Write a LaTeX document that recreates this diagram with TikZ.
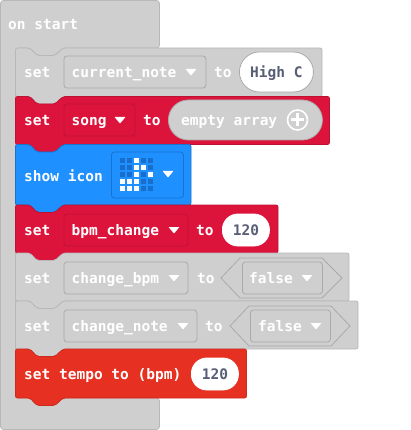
\documentclass[tikz,border=0pt]{standalone}
\usepackage{fontspec}
\setmonofont{DejaVu Sans Mono}
\usetikzlibrary{positioning}
\definecolor{offFill}{RGB}{207,207,207}
\definecolor{offBrd}{RGB}{184,184,184}
\definecolor{offFld}{RGB}{170,170,170}
\definecolor{varFill}{RGB}{220,20,60}
\definecolor{varBrd}{RGB}{190,18,52}
\definecolor{iconFill}{RGB}{30,144,255}
\definecolor{iconBrd}{RGB}{24,115,204}
\definecolor{ledOff}{RGB}{24,110,205}
\definecolor{tempoFill}{RGB}{230,48,34}
\definecolor{tempoBrd}{RGB}{205,42,30}
\definecolor{numTxt}{RGB}{87,94,117}
\tikzset{
  every node/.style={font=\ttfamily\bfseries\fontsize{14.5}{16}\selectfont},
  TXT/.style={text=white, inner sep=0pt, anchor=west, text height=11.5pt, text depth=0.5pt},
  FLD/.style={draw, rounded corners=3pt, line width=0.8pt, minimum height=32pt, inner sep=0pt, anchor=west},
  PILL/.style={draw, rounded corners=15.5pt, line width=0.8pt, inner sep=0pt, anchor=west, text height=11.5pt, text depth=0.5pt},
  NUM/.style={PILL, fill=white, draw=offFld, text=numTxt, minimum height=32pt},
  OFF/.style={fill=offFill, draw=offBrd, line width=0.8pt},
  VAR/.style={fill=varFill, draw=varBrd, line width=0.8pt},
  ICN/.style={fill=iconFill, draw=iconBrd, line width=0.8pt},
  TMP/.style={fill=tempoFill, draw=tempoBrd, line width=0.8pt},
}
\newcommand{\stackblock}[4]{\draw[#4, rounded corners=2pt] (15.5,#1) -- (30,#1) -- (37,#1+7.5) -- (55,#1+7.5) -- (63,#1) -- (#3,#1) -- (#3,#2) -- (63,#2) -- (55,#2+7.5) -- (37,#2+7.5) -- (30,#2) -- (15.5,#2) -- cycle;}
\newcommand{\dropmark}[2]{\fill[white, rounded corners=0.6pt] (#1-5.5,#2-3) -- (#1+5.5,#2-3) -- (#1,#2+3.5) -- cycle;}

\begin{document}
\begin{tikzpicture}[x=1pt, y=1pt, yscale=-1]

\useasboundingbox (0,0) rectangle (410,430);

%% Hat
\draw[OFF, rounded corners=3pt] (0.5,0.5) -- (0.5,429.5) -- (159.5,429.5) -- (159.5,398) -- (15.5,398) -- (15.5,48) -- (30,48) -- (37,55.5) -- (55,55.5) -- (63,48) -- (159.5,48) -- (159.5,0.5) -- cycle;
\node[TXT] (startTxt) at (8,24) {on start};

%% current_note
\stackblock{48}{96.5}{322}{OFF}
\node[TXT] (setNote) at (24,72) {set};
\node[FLD, draw=offFld, fill=offFill, minimum width=142pt] (noteFld) at (63.5,72) {};
\node[TXT, right=8pt of noteFld.west] (noteTxt) {current\_note};
\dropmark{191}{72}
\node[TXT] (toNote) at (214,72) {to};
\node[NUM, minimum width=74pt, minimum height=40pt, rounded corners=20pt] (noteVal) at (239,72) {High C};

%% song
\stackblock{96.5}{144.5}{329.5}{VAR}
\node[TXT] (setSong) at (24,120) {set};
\node[FLD, draw=varBrd, fill=varFill, minimum width=71pt] (songFld) at (63.5,120) {};
\node[TXT, right=8pt of songFld.west] (songTxt) {song};
\dropmark{120}{120}
\node[TXT] (toSong) at (143,120) {to};
\node[PILL, fill=offFill, draw=offFld, text=white, minimum width=154pt, minimum height=40pt, rounded corners=20pt] (songVal) at (168,120) {};
\node[TXT, right=13pt of songVal.west] (songArr) {empty array};
\draw[white, line width=1.6pt] (297.5,120) circle (10);
\draw[white, line width=3pt] (291,120) -- (304,120);
\draw[white, line width=3pt] (297.5,113.5) -- (297.5,126.5);

%% show icon
\stackblock{144.5}{205}{191}{ICN}
\node[TXT] (iconTxt) at (24,176) {show icon};
\node[FLD, draw=iconBrd, fill=iconFill, minimum width=72pt, minimum height=46pt] (iconFld) at (111,175) {};
\foreach \r in {0,...,4} {
  \foreach \c in {0,...,4} {
    \fill[ledOff] (120+7*\c,158+7*\r) rectangle +(5.4,5.4);
  }
}
\foreach \c/\r in {2/0, 2/1, 3/1, 2/2, 4/2, 0/3, 1/3, 2/3, 0/4, 1/4, 2/4} {
  \fill[white] (120+7*\c,158+7*\r) rectangle +(5.4,5.4);
}
\dropmark{168}{174}

%% bpm_change
\stackblock{205}{253}{278}{VAR}
\node[TXT] (setBpm) at (24,230) {set};
\node[FLD, draw=varBrd, fill=varFill, minimum width=124pt] (bpmFld) at (63.5,230) {};
\node[TXT, right=8pt of bpmFld.west] (bpmTxt) {bpm\_change};
\dropmark{174}{230}
\node[TXT] (toBpm) at (196,230) {to};
\node[NUM, minimum width=47pt, draw=white] (bpmVal) at (222,230) {120};

%% change_bpm
\stackblock{253}{301}{349}{OFF}
\node[TXT] (setChg) at (24,278) {set};
\node[FLD, draw=offFld, fill=offFill, minimum width=124pt] (chgFld) at (63.5,278) {};
\node[TXT, right=8pt of chgFld.west] (chgTxt) {change\_bpm};
\dropmark{174}{278}
\node[TXT] (toChg) at (197,278) {to};
\draw[fill=offFill, draw=offFld, line width=0.8pt] (221,278) -- (240,258) -- (322,258) -- (342,278) -- (322,298) -- (240,298) -- cycle;
\node[FLD, draw=offFld, fill=offFill, minimum width=80pt] (chgVal) at (242,278) {};
\node[TXT, right=7pt of chgVal.west] (chgBool) {false};
\dropmark{307}{278}

%% change_note
\stackblock{301}{349}{358}{OFF}
\node[TXT] (setCn) at (24,326) {set};
\node[FLD, draw=offFld, fill=offFill, minimum width=133pt] (cnFld) at (63.5,326) {};
\node[TXT, right=8pt of cnFld.west] (cnTxt) {change\_note};
\dropmark{183}{326}
\node[TXT] (toCn) at (205,326) {to};
\draw[fill=offFill, draw=offFld, line width=0.8pt] (230,326) -- (249,306) -- (331,306) -- (350,326) -- (331,346) -- (249,346) -- cycle;
\node[FLD, draw=offFld, fill=offFill, minimum width=80pt] (cnVal) at (250,326) {};
\node[TXT, right=8pt of cnVal.west] (cnBool) {false};
\dropmark{316}{326}

%% tempo
\stackblock{349}{398}{246.5}{TMP}
\node[TXT] (tempoTxt) at (24,374) {set tempo to (bpm)};
\node[NUM, minimum width=47pt, draw=white] (tempoVal) at (191,374) {120};

\end{tikzpicture}
\end{document}
